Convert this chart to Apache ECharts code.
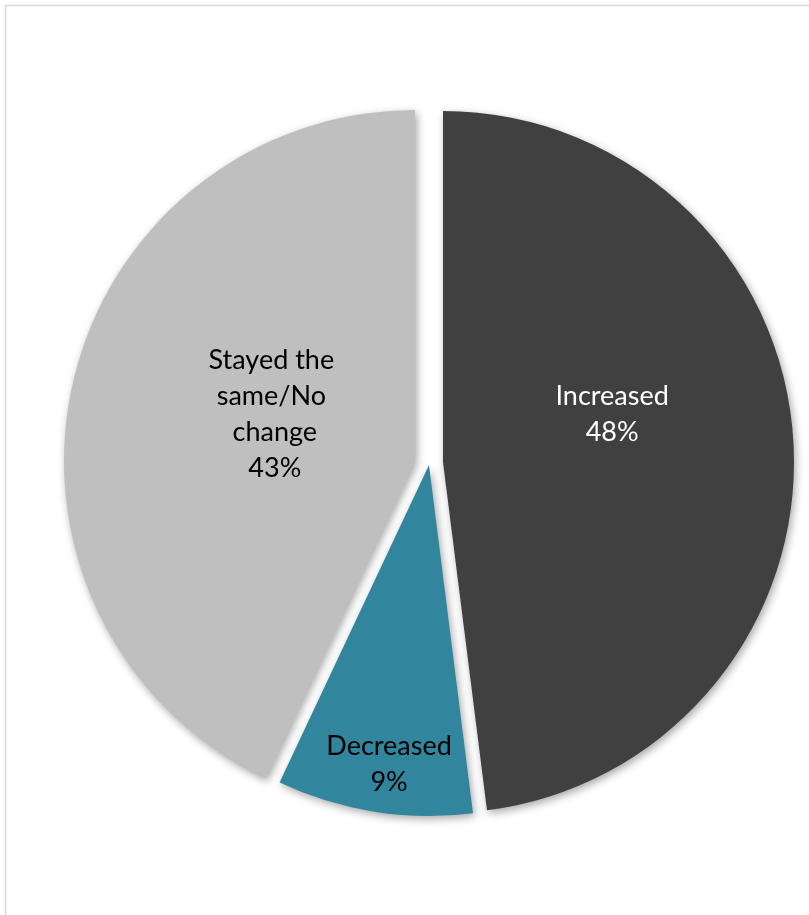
<!DOCTYPE html>
<html>
<head>
<meta charset="utf-8">
<script src="https://cdn.jsdelivr.net/npm/echarts@6/dist/echarts.min.js"></script>
<style>
html, body { margin: 0; padding: 0; background: #ffffff; }
#c { width: 809px; height: 915px; }
</style>
</head>
<body>
<div id="c"></div>
<script>
// ---- data ----
const categories = ['Increased', 'Decreased', 'Stayed the same/No change'];
const values = [48, 9, 43];

// ---- style / layout ----
const colors = ['#404040', '#31859C', '#BFBFBF'];
const labelColors = ['#ffffff', '#000000', '#000000'];
const sliceCenters = [[443, 462], [429, 465], [415, 461]]; // exploded slice centres (px)
const labelShift = [[-9, -36], [-12, 123], [34, -8]];       // label nudges (px)
const R = 351;

const chart = echarts.init(document.getElementById('c'), null, { renderer: 'canvas' });

const series = categories.map((_, k) => ({
  type: 'pie',
  center: sliceCenters[k],
  radius: [0, R],
  startAngle: 90,
  clockwise: true,
  avoidLabelOverlap: false,
  silent: true,
  animation: false,
  emphasis: { disabled: true },
  labelLine: { show: false },
  labelLayout: () => ({ dx: labelShift[k][0], dy: labelShift[k][1] }),
  data: categories.map((name, i) => ({
    name: name,
    value: values[i],
    itemStyle: i === k
      ? { color: colors[i], shadowBlur: 8, shadowOffsetX: 2, shadowOffsetY: 3, shadowColor: 'rgba(0,0,0,0.35)' }
      : { color: 'rgba(0,0,0,0)' },
    label: i === k
      ? {
          show: true,
          position: 'inside',
          color: labelColors[i],
          fontFamily: 'Lato',
          fontSize: 27,
          lineHeight: 36,
          width: 145,
          overflow: 'break',
          align: 'center',
          formatter: p => p.name + '\n' + Math.round(p.percent) + '%'
        }
      : { show: false }
  }))
}));

chart.setOption({
  backgroundColor: '#ffffff',
  animation: false,
  graphic: [{
    type: 'rect',
    silent: true,
    z: -10,
    shape: { x: 5.5, y: 5.5, width: 1000, height: 1000 },
    style: { fill: 'none', stroke: '#d9d9d9', lineWidth: 1.5 }
  }],
  series: series
});
</script>
</body>
</html>
